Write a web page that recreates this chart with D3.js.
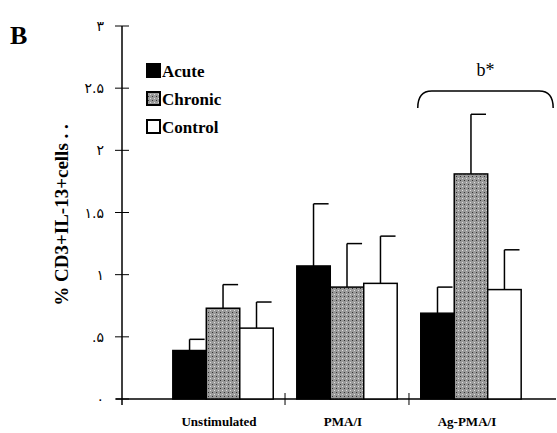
<!DOCTYPE html><html><head><meta charset="utf-8"><script src="https://cdn.jsdelivr.net/npm/d3@7"></script>
<style>body{margin:0;background:#fff}</style></head><body><svg id="c" width="557" height="433"></svg><script>
const categories=["Unstimulated","PMA/I","Ag-PMA/I"];
const series=["Acute","Chronic","Control"];
const means=[[0.39,0.73,0.57],[1.07,0.90,0.93],[0.69,1.81,0.88]];
const errs=[[0.48,0.92,0.78],[1.57,1.25,1.31],[0.90,2.29,1.20]];
const tickVals=[0,0.5,1,1.5,2,2.5,3];
const tickLabels=["۰",".۵","۱","۱.۵","۲","۲.۵","۳"];
const svg=d3.select("#c");
const defs=svg.append("defs");
const p=defs.append("pattern").attr("id","st").attr("width",4).attr("height",4).attr("patternUnits","userSpaceOnUse");
p.append("rect").attr("width",4).attr("height",4).attr("fill","#9a9a9a");
p.append("rect").attr("width",1).attr("height",1).attr("fill","#333");
p.append("rect").attr("x",2).attr("y",2).attr("width",1).attr("height",1).attr("fill","#ddd");
const fills=["#000","url(#st)","#fff"];
const serif="'Liberation Serif','Times New Roman',serif";
const y=d3.scaleLinear().domain([0,3]).range([399,26]);
const x0=d3.scaleBand().domain(categories).range([122,572]).paddingInner(0.19).paddingOuter(0.41);
const x1=d3.scaleBand().domain(series).range([0,x0.bandwidth()]);
const ax=svg.append("g");
ax.append("line").attr("x1",122).attr("x2",122).attr("y1",26).attr("y2",405).attr("stroke","#000").attr("stroke-width",1.5);
ax.append("line").attr("x1",116).attr("x2",556).attr("y1",399).attr("y2",399).attr("stroke","#000").attr("stroke-width",1.5);
tickVals.forEach((v,i)=>{ax.append("line").attr("x1",115).attr("x2",129).attr("y1",y(v)).attr("y2",y(v)).attr("stroke","#000");
ax.append("text").attr("x",104).attr("y",y(v)+5).attr("text-anchor","end").attr("font-family","DejaVu Sans").attr("font-size",14).text(tickLabels[i]);});
[0,1].forEach(i=>{const xx=(x0(categories[i])+x0.bandwidth()+x0(categories[i+1]))/2;ax.append("line").attr("x1",xx).attr("x2",xx).attr("y1",393).attr("y2",405).attr("stroke","#000");});
categories.forEach((c,i)=>{const g=svg.append("g");
series.forEach((s,j)=>{const bx=x0(c)+x1(s),w=x1.bandwidth(),cx=bx+w/2;
g.append("line").attr("x1",cx).attr("x2",cx).attr("y1",y(errs[i][j])).attr("y2",y(means[i][j])).attr("stroke","#000").attr("stroke-width",1.5);
g.append("line").attr("x1",cx).attr("x2",cx+w*0.45).attr("y1",y(errs[i][j])).attr("y2",y(errs[i][j])).attr("stroke","#000").attr("stroke-width",1.5);
g.append("rect").attr("x",bx).attr("y",y(means[i][j])).attr("width",w).attr("height",y(0)-y(means[i][j])).attr("fill",fills[j]).attr("stroke","#000").attr("stroke-width",1.5);});
svg.append("text").attr("x",x0(c)+x0.bandwidth()/2-4).attr("y",426).attr("text-anchor","middle").style("font-family",serif).attr("font-weight","bold").attr("font-size",13).text(c);});
svg.append("text").attr("x",10).attr("y",44).style("font-family",serif).attr("font-weight","bold").attr("font-size",26).text("B");
svg.append("text").attr("transform","translate(68,215) rotate(-90)").attr("text-anchor","middle").style("font-family",serif).attr("font-weight","bold").attr("font-size",19).text("% CD3+IL-13+cells  .  .");
series.forEach((s,j)=>{const ly=77+j*28;
svg.append("rect").attr("x",147).attr("y",ly-13).attr("width",13).attr("height",13).attr("fill",fills[j]).attr("stroke","#000").attr("stroke-width",2);
svg.append("text").attr("x",162).attr("y",ly).style("font-family",serif).attr("font-weight","bold").attr("font-size",17).text(s);});
const bx0=x0("Ag-PMA/I")-3,bx1=x0("Ag-PMA/I")+x0.bandwidth()+32;
svg.append("path").attr("d",`M${bx0},108 Q${bx0},91 ${bx0+14},91 L${bx1-14},91 Q${bx1},91 ${bx1},108`).attr("fill","none").attr("stroke","#000").attr("stroke-width",1.5);
svg.append("text").attr("x",(bx0+bx1)/2).attr("y",76).attr("text-anchor","middle").style("font-family",serif).attr("font-size",18).text("b*");
</script></body></html>
